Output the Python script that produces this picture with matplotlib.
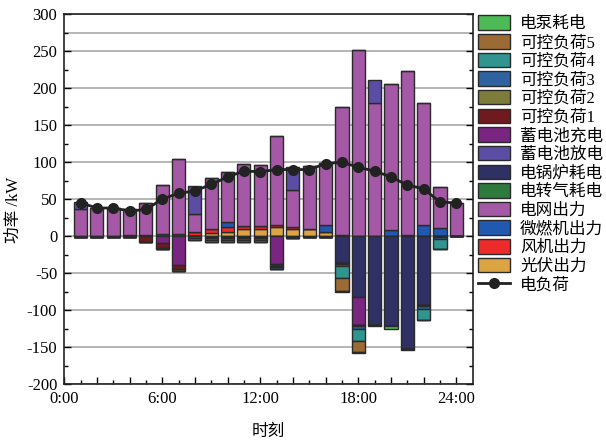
import numpy as np
from matplotlib import pyplot as plt

plt.rcParams['font.family'] = ['Liberation Serif', 'Noto Sans CJK SC']
plt.rcParams['axes.unicode_minus'] = False

hours = list(range(1, 25))

# supply side (stacked upward)
pv = [0, 0, 0, 0, 0, 0, 0, 0, 4, 6, 10, 10, 12, 10, 9, 5, 2, 0, 0, 0, 0, 0, 0, 0]
wind = [0, 0, 0, 1.5, 2, 3, 3, 5, 5, 6, 4, 4, 3, 2, 0.5, 0, 0, 0, 0, 0, 0, 0, 0, 0]
micro_turbine = [0, 0, 0, 0, 0, 0, 0, 1, 0, 7, 0, 0, 0, 0, 0, 10, 0, 0, 0, 8, 2, 15, 11, 0]
grid = [36, 38, 38, 34.5, 43, 66, 101, 24, 69, 67, 83, 82, 120, 50, 85.5, 84,
        172, 251, 180, 197, 221, 165, 55, 45]
discharge = [10, 0, 0, 0, 0, 0, 0, 38, 0, 0, 0, 0, 0, 31, 0, 0, 0, 0, 31, 0, 0, 0, 0, 0]

# consumption side (stacked downward)
p2g = [1, 1, 1, 1, 0.5, 0, 0, 0.5, 1, 1, 1, 1, 0, 1, 1, 1, 0, 0, 0, 0, 0, 0, 0, 0.5]
boiler = [0] * 16 + [36, 82, 120, 122, 153, 93, 0, 0]
charge = [0, 0, 0, 0, 0, 9, 39, 0, 0, 0, 0, 0, 38, 0, 0, 0, 0, 38, 0, 0, 0, 0, 0, 0]
load1 = [0, 0, 0, 0, 7, 7, 6, 0, 0, 0, 0, 0, 3, 0, 0, 0, 0, 0, 0, 0, 0, 0, 0, 0]
load2 = [0, 0, 0, 0, 0, 2, 2, 0, 1, 1, 1, 1, 1, 1, 0, 0, 2, 2, 0, 0, 0, 2, 1, 0]
load3 = [0, 0, 0, 0, 0, 0, 0, 2.5, 3, 3, 3, 3, 3, 1, 0, 0, 3, 3, 0, 0, 0, 3, 3, 0]
load4 = [0, 0, 0, 0, 0, 0, 0, 2, 3, 3, 3, 3, 0, 0, 0, 0, 16, 17, 0, 0, 0, 15, 13, 0]
load5 = [0] * 16 + [17, 15, 0, 0, 0, 0, 0, 0]
pump = [0] * 16 + [1, 1, 1.5, 3.5, 1.5, 1, 1, 0]

demand = [45, 38, 38, 34, 36, 50, 58, 61, 70, 80, 88, 87, 90, 90, 90, 98,
          100, 93, 88, 80, 69, 64, 46, 45]

supply = [
    ('光伏出力', pv, '#DDA444'),
    ('风机出力', wind, '#EE2B2B'),
    ('微燃机出力', micro_turbine, '#2158B0'),
    ('电网出力', grid, '#A458A6'),
    ('蓄电池放电', discharge, '#5A4DA3'),
]
consume = [
    ('电转气耗电', p2g, '#2E7A3E'),
    ('电锅炉耗电', boiler, '#2F3063'),
    ('蓄电池充电', charge, '#7B2582'),
    ('可控负荷1', load1, '#6E1A1E'),
    ('可控负荷2', load2, '#7E7C3A'),
    ('可控负荷3', load3, '#2E62A0'),
    ('可控负荷4', load4, '#30948F'),
    ('可控负荷5', load5, '#9B6A35'),
    ('电泵耗电', pump, '#4CBB55'),
]
legend_order = ['电泵耗电', '可控负荷5', '可控负荷4', '可控负荷3', '可控负荷2',
                '可控负荷1', '蓄电池充电', '蓄电池放电', '电锅炉耗电', '电转气耗电',
                '电网出力', '微燃机出力', '风机出力', '光伏出力']

fig = plt.figure(figsize=(6.06, 4.43), dpi=100)
ax = fig.add_axes([0.106, 0.133, 0.674, 0.835])

bars = {}
base = np.zeros(len(hours))
for name, vals, color in supply:
    vals = np.array(vals, dtype=float)
    bars[name] = ax.bar(hours, vals, 0.8, bottom=base, color=color,
                        edgecolor='#2a2a2a', linewidth=1, zorder=2)
    base += vals

base = np.zeros(len(hours))
for name, vals, color in consume:
    vals = -np.array(vals, dtype=float)
    bars[name] = ax.bar(hours, vals, 0.8, bottom=base, color=color,
                        edgecolor='#2a2a2a', linewidth=1, zorder=2)
    base += vals

line, = ax.plot(hours, demand, color='#222222', linewidth=2, marker='o',
                markersize=7, zorder=4)

# grid
ax.set_axisbelow(True)
ax.yaxis.grid(True, color='#b0b0b0', linewidth=1.3)
for level in [275]:
    ax.axhline(level, color='#b0b0b0', linewidth=1.3, zorder=0)

ax.set_xlim(0, 25)
ax.set_ylim(-200, 300)
ax.set_xticks(range(0, 25, 2))
ax.set_xticklabels([f'{h}:00' if h % 6 == 0 else '' for h in range(0, 25, 2)])
ax.set_xticks(range(0, 25), minor=True)
ax.set_yticks(range(-200, 301, 50))
ax.set_yticks(range(-200, 301, 25), minor=True)
ax.tick_params(which='both', direction='in', right=True, labelsize=12, width=1)
ax.tick_params(which='major', length=5)
ax.tick_params(axis='x', which='major', pad=5)
ax.tick_params(axis='y', which='major', pad=5)
ax.tick_params(which='minor', length=3)
for sp in ax.spines.values():
    sp.set_linewidth(1.2)
    sp.set_color('#222222')

ax.set_xlabel('时刻', fontsize=12, labelpad=12)
ax.set_ylabel('功率 /kW', fontsize=12)
ax.yaxis.set_label_coords(-0.103, 0.47)

handles = [bars[n] for n in legend_order] + [line]
labels = legend_order + ['电负荷']
ax.legend(handles, labels, loc='upper left', bbox_to_anchor=(1.0, 1.01),
          frameon=False, borderaxespad=0, borderpad=0.3, fontsize=12,
          handlelength=1.95, handleheight=0.96, labelspacing=0.1,
          handletextpad=0.6)

plt.savefig('out.png', dpi=100)
